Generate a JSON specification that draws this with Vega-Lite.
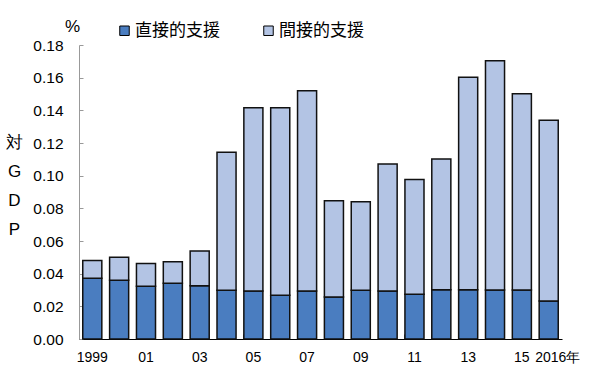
{
  "$schema": "https://vega.github.io/schema/vega-lite/v6.json",
  "width": 483,
  "height": 294,
  "autosize": {"type": "none"},
  "padding": {"left": 79, "top": 45, "right": 38, "bottom": 28},
  "background": "white",
  "config": {
    "font": "Liberation Sans",
    "view": {"stroke": null},
    "axis": {"grid": false, "labelFont": "Liberation Sans", "labelColor": "#000", "titleColor": "#000"}
  },
  "title": {"text": "%", "anchor": "start", "frame": "group", "dx": -14, "offset": -31, "baseline": "bottom", "fontSize": 17, "fontWeight": "normal", "font": "Liberation Sans", "color": "#000"},
  "data": {"values": [
    {"year": "1999", "type": "直接的支援", "order": 1, "value": 0.0372},
    {"year": "1999", "type": "間接的支援", "order": 2, "value": 0.0108},
    {"year": "2000", "type": "直接的支援", "order": 1, "value": 0.0360},
    {"year": "2000", "type": "間接的支援", "order": 2, "value": 0.0140},
    {"year": "2001", "type": "直接的支援", "order": 1, "value": 0.0323},
    {"year": "2001", "type": "間接的支援", "order": 2, "value": 0.0140},
    {"year": "2002", "type": "直接的支援", "order": 1, "value": 0.0341},
    {"year": "2002", "type": "間接的支援", "order": 2, "value": 0.0132},
    {"year": "2003", "type": "直接的支援", "order": 1, "value": 0.0326},
    {"year": "2003", "type": "間接的支援", "order": 2, "value": 0.0213},
    {"year": "2004", "type": "直接的支援", "order": 1, "value": 0.0298},
    {"year": "2004", "type": "間接的支援", "order": 2, "value": 0.0845},
    {"year": "2005", "type": "直接的支援", "order": 1, "value": 0.0294},
    {"year": "2005", "type": "間接的支援", "order": 2, "value": 0.1122},
    {"year": "2006", "type": "直接的支援", "order": 1, "value": 0.0268},
    {"year": "2006", "type": "間接的支援", "order": 2, "value": 0.1148},
    {"year": "2007", "type": "直接的支援", "order": 1, "value": 0.0294},
    {"year": "2007", "type": "間接的支援", "order": 2, "value": 0.1226},
    {"year": "2008", "type": "直接的支援", "order": 1, "value": 0.0257},
    {"year": "2008", "type": "間接的支援", "order": 2, "value": 0.0590},
    {"year": "2009", "type": "直接的支援", "order": 1, "value": 0.0298},
    {"year": "2009", "type": "間接的支援", "order": 2, "value": 0.0543},
    {"year": "2010", "type": "直接的支援", "order": 1, "value": 0.0294},
    {"year": "2010", "type": "間接的支援", "order": 2, "value": 0.0778},
    {"year": "2011", "type": "直接的支援", "order": 1, "value": 0.0274},
    {"year": "2011", "type": "間接的支援", "order": 2, "value": 0.0702},
    {"year": "2012", "type": "直接的支援", "order": 1, "value": 0.0302},
    {"year": "2012", "type": "間接的支援", "order": 2, "value": 0.0800},
    {"year": "2013", "type": "直接的支援", "order": 1, "value": 0.0302},
    {"year": "2013", "type": "間接的支援", "order": 2, "value": 0.1300},
    {"year": "2014", "type": "直接的支援", "order": 1, "value": 0.0300},
    {"year": "2014", "type": "間接的支援", "order": 2, "value": 0.1404},
    {"year": "2015", "type": "直接的支援", "order": 1, "value": 0.0300},
    {"year": "2015", "type": "間接的支援", "order": 2, "value": 0.1202},
    {"year": "2016", "type": "直接的支援", "order": 1, "value": 0.0233},
    {"year": "2016", "type": "間接的支援", "order": 2, "value": 0.1106}
  ]},
  "mark": {"type": "bar", "stroke": "#111", "strokeWidth": 1.5},
  "encoding": {
    "x": {
      "field": "year", "type": "ordinal",
      "scale": {"paddingInner": 0.29, "paddingOuter": 0.14},
      "axis": {
        "title": null, "labelAngle": 0, "labelFontSize": 14,
        "labelExpr": "datum.value == '2016' ? '2016年' : datum.value == '1999' ? '1999' : (toNumber(datum.value) % 2 == 1 ? substring(datum.value, 2) : '')",
        "labelOffset": {"condition": {"test": "datum.value == '2016'", "value": 9}, "value": 0},
        "bandPosition": 0, "tickSize": -5, "tickColor": "#555", "tickWidth": 1,
        "domainColor": "#000", "domainWidth": 1.2, "labelPadding": 16
      }
    },
    "y": {
      "field": "value", "type": "quantitative", "stack": "zero",
      "scale": {"domain": [0, 0.18], "nice": false},
      "axis": {
        "values": [0, 0.02, 0.04, 0.06, 0.08, 0.1, 0.12, 0.14, 0.16, 0.18],
        "format": ".2f", "labelFontSize": 15.5,
        "tickSize": -4, "tickColor": "#999", "domainColor": "#999", "labelPadding": 20,
        "title": ["対", "G", "D", "P"], "titleAngle": 0, "titleFontSize": 17, "titleFontWeight": "normal",
        "titleLineHeight": 29, "titleX": -65, "titleY": 97, "titleAlign": "center", "titleBaseline": "middle"
      }
    },
    "color": {
      "field": "type", "type": "nominal",
      "scale": {"domain": ["直接的支援", "間接的支援"], "range": ["#4a7dc0", "#b3c4e4"]},
      "legend": {
        "title": null, "orient": "none", "direction": "horizontal", "legendX": 37, "legendY": -23,
        "symbolType": "square", "symbolSize": 90, "symbolStrokeColor": "#000", "symbolStrokeWidth": 1,
        "labelFontSize": 17, "labelFont": "Noto Sans CJK JP", "labelColor": "#000", "columnPadding": 40, "labelOffset": 2
      }
    },
    "order": {"field": "order", "type": "quantitative"}
  }
}
